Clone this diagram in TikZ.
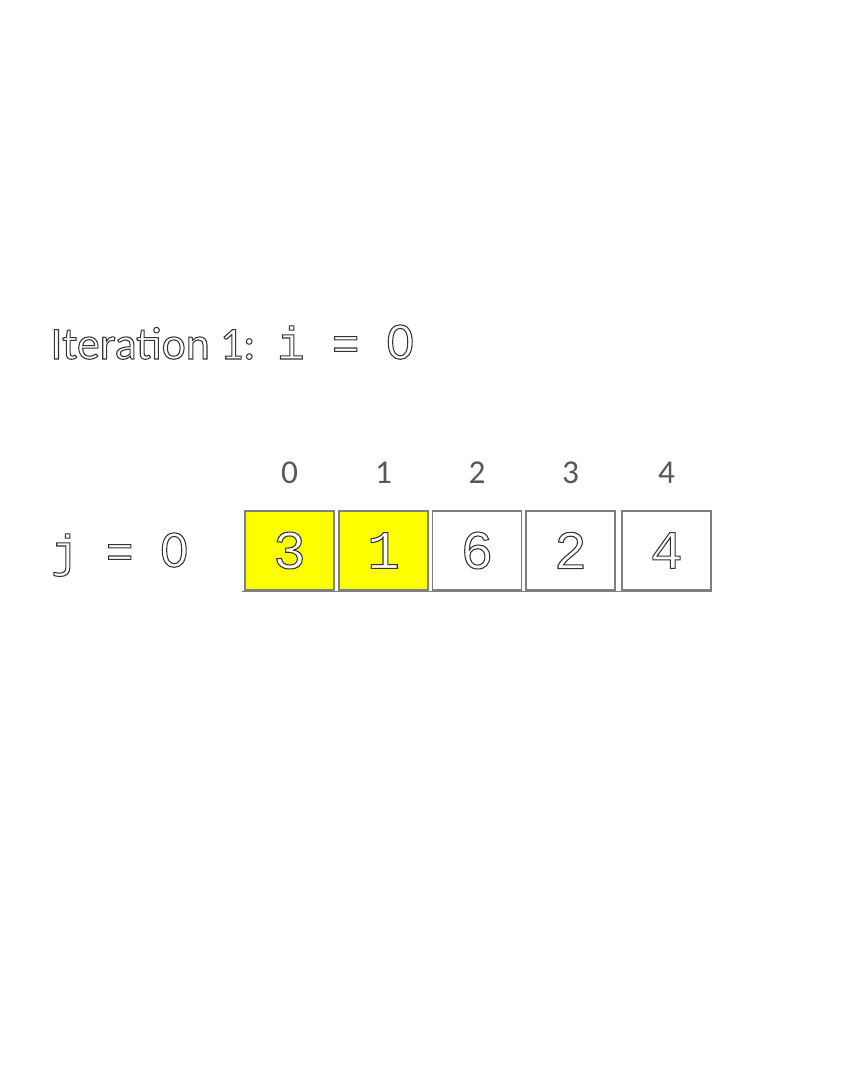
\documentclass[tikz,border=0pt]{standalone}
\usepackage{fontspec}
\setmainfont{Carlito}
\newfontfamily\codefont{Liberation Mono}
\newfontfamily\zerofont{Carlito}
\usetikzlibrary{positioning}

\definecolor{boxgray}{HTML}{7F7F7F}
\definecolor{idxgray}{HTML}{595959}
\definecolor{hotyellow}{HTML}{FFFF00}

% hollow text: white fill, thin dark stroke
\newcommand{\hollow}[1]{\special{pdf:code q 2 Tr 0.3 w 0.2 0.2 0.2 RG}#1\special{pdf:code Q}}
% plain (undotted) zero
\newcommand{\nought}{{\zerofont\fontsize{15}{17}\selectfont 0}}

\tikzset{
	headline/.style={anchor=base west, inner sep=0, text=white, font=\fontsize{13}{15}\selectfont},
	codeline/.style={anchor=base west, inner sep=0, text=white, font=\codefont\fontsize{13}{15}\selectfont},
	cell/.style={draw=boxgray, line width=0.3pt, minimum width=0.89cm, minimum height=0.79cm,
		inner sep=0, text=white, font=\codefont\fontsize{15.5}{17}\selectfont},
	hot/.style={cell, fill=hotyellow},
	index/.style={text=idxgray, font=\fontsize{9.5}{11}\selectfont}
}

\begin{document}
\begin{tikzpicture}
	\useasboundingbox (0, 0) rectangle (8.64, 10.8);

	\path (0.50, 7.21)   node[headline] (iter) {\hollow{Iteration 1:}}
	      (2.765, 7.21)  node[codeline] (ival) {\hollow{i = \nought}}
	      (0.505, 5.13)  node[codeline] (jval) {\hollow{j = \nought}};

	\path (2.895, 5.295) node[hot]  (c0) {\hollow{3}}
	      (3.835, 5.295) node[hot]  (c1) {\hollow{1}}
	      (4.770, 5.295) node[cell] (c2) {\hollow{6}}
	      (5.705, 5.295) node[cell] (c3) {\hollow{2}}
	      (6.665, 5.295) node[cell] (c4) {\hollow{4}};

	\foreach \k in {0,...,4}
		\node[index] (i\k) at ([yshift=0.38cm]c\k.north) {\k};

	\draw[boxgray, line width=0.4pt] ([xshift=-0.02cm, yshift=-0.01cm]c0.south west) -- ([yshift=-0.01cm]c4.south east);
\end{tikzpicture}
\end{document}
